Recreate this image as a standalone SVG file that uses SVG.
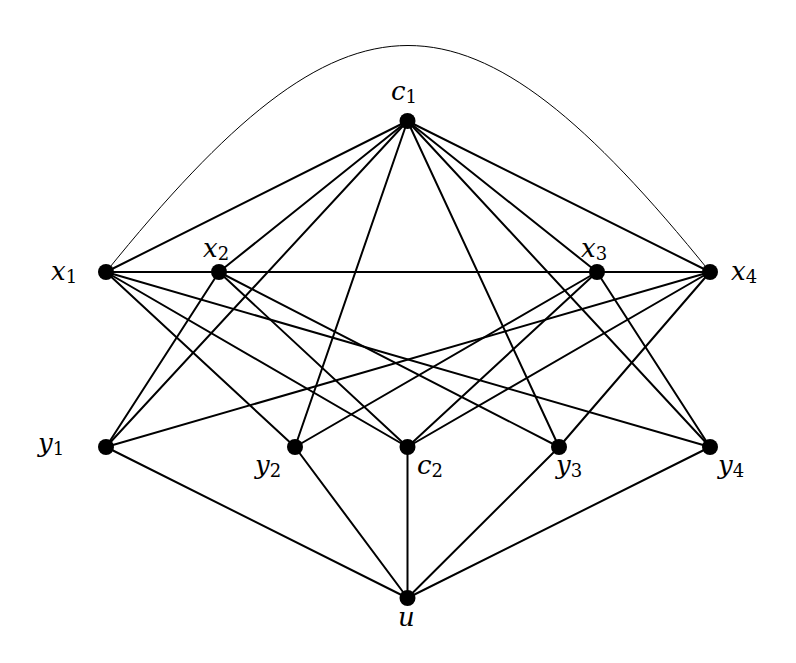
<svg xmlns="http://www.w3.org/2000/svg" width="796" height="663" viewBox="0 0 796 663">
<style>
.e{stroke:#000;stroke-width:2;fill:none;stroke-linecap:round}
.arc{stroke:#000;stroke-width:1;fill:none}
.n{fill:#000}
.t{font-family:'DejaVu Serif','Liberation Serif',serif;font-style:italic;font-size:26px;fill:#000}
.t tspan{font-style:normal;font-size:18px}
</style>
<rect width="796" height="663" fill="#fff"/>
<g id="connectors">
<path class="arc" d="M106,272 C350,-30 466,-30 710,272"/>
<line class="e" x1="407.5" y1="121" x2="106" y2="272"/>
<line class="e" x1="407.5" y1="121" x2="219" y2="272"/>
<line class="e" x1="407.5" y1="121" x2="597" y2="272"/>
<line class="e" x1="407.5" y1="121" x2="710" y2="272"/>
<line class="e" x1="407.5" y1="121" x2="106" y2="447"/>
<line class="e" x1="407.5" y1="121" x2="295" y2="447"/>
<line class="e" x1="407.5" y1="121" x2="559" y2="447"/>
<line class="e" x1="407.5" y1="121" x2="710" y2="447"/>
<line class="e" x1="106" y1="272" x2="710" y2="272"/>
<line class="e" x1="106" y1="272" x2="295" y2="447"/>
<line class="e" x1="106" y1="272" x2="407.5" y2="447"/>
<line class="e" x1="106" y1="272" x2="710" y2="447"/>
<line class="e" x1="219" y1="272" x2="106" y2="447"/>
<line class="e" x1="219" y1="272" x2="407.5" y2="447"/>
<line class="e" x1="219" y1="272" x2="559" y2="447"/>
<line class="e" x1="597" y1="272" x2="710" y2="447"/>
<line class="e" x1="597" y1="272" x2="407.5" y2="447"/>
<line class="e" x1="597" y1="272" x2="295" y2="447"/>
<line class="e" x1="710" y1="272" x2="559" y2="447"/>
<line class="e" x1="710" y1="272" x2="407.5" y2="447"/>
<line class="e" x1="710" y1="272" x2="106" y2="447"/>
<line class="e" x1="407.5" y1="598" x2="106" y2="447"/>
<line class="e" x1="407.5" y1="598" x2="295" y2="447"/>
<line class="e" x1="407.5" y1="598" x2="407.5" y2="447"/>
<line class="e" x1="407.5" y1="598" x2="559" y2="447"/>
<line class="e" x1="407.5" y1="598" x2="710" y2="447"/>
</g>
<g id="c1"><circle class="n" cx="407.5" cy="121" r="8"/><text class="t" x="391" y="100">c<tspan dy="3">1</tspan></text></g>
<g id="x1"><circle class="n" cx="106" cy="272" r="8"/><text class="t" x="51" y="280">x<tspan dy="3">1</tspan></text></g>
<g id="x2"><circle class="n" cx="219" cy="272" r="8"/><text class="t" x="203" y="257">x<tspan dy="3">2</tspan></text></g>
<g id="x3"><circle class="n" cx="597" cy="272" r="8"/><text class="t" x="581" y="257">x<tspan dy="3">3</tspan></text></g>
<g id="x4"><circle class="n" cx="710" cy="272" r="8"/><text class="t" x="731" y="280">x<tspan dy="3">4</tspan></text></g>
<g id="y1"><circle class="n" cx="106" cy="447" r="8"/><text class="t" x="38" y="452">y<tspan dy="3">1</tspan></text></g>
<g id="y2"><circle class="n" cx="295" cy="447" r="8"/><text class="t" x="255" y="474">y<tspan dy="3">2</tspan></text></g>
<g id="c2"><circle class="n" cx="407.5" cy="447" r="8"/><text class="t" x="417" y="474">c<tspan dy="3">2</tspan></text></g>
<g id="y3"><circle class="n" cx="559" cy="447" r="8"/><text class="t" x="556" y="474">y<tspan dy="3">3</tspan></text></g>
<g id="y4"><circle class="n" cx="710" cy="447" r="8"/><text class="t" x="718" y="474">y<tspan dy="3">4</tspan></text></g>
<g id="u"><circle class="n" cx="407.5" cy="598" r="8"/><text class="t" x="398" y="626">u</text></g>
</svg>
